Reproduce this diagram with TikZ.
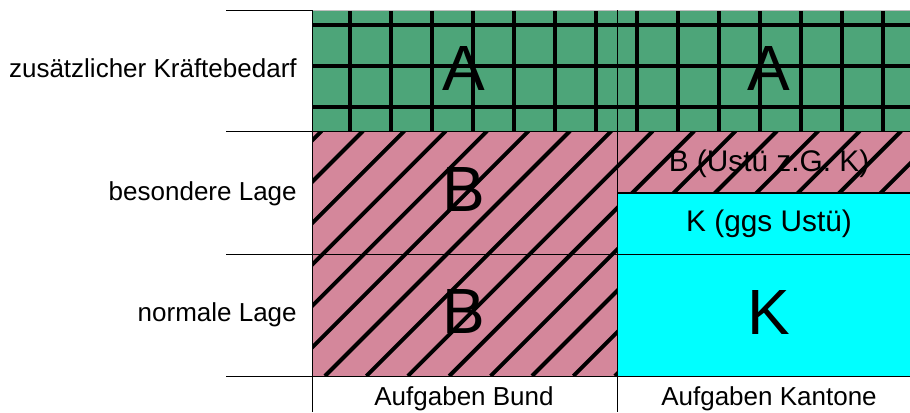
\documentclass[tikz,border=0pt]{standalone}
\usepackage{fontspec}
\setmainfont{Liberation Sans}
\definecolor{gruen}{RGB}{77,165,121}
\definecolor{rosa}{RGB}{212,135,155}
\definecolor{tuerkis}{RGB}{0,255,255}
\begin{document}
\begin{tikzpicture}[
    linie/.style={line width=0.7pt},
    muster/.style={line width=2.8pt},
    zeile/.style={anchor=base east,inner sep=0pt,font=\fontsize{18.5}{22}\selectfont},
    spalte/.style={anchor=base,font=\fontsize{18.5}{22}\selectfont},
    gross/.style={anchor=base,font=\fontsize{45.5}{50}\selectfont},
    mittel/.style={anchor=base,font=\fontsize{21.2}{25}\selectfont}]
    \useasboundingbox (0,0) rectangle (22.75,-10.3);
    % Flaechen
    \fill[gruen] (7.8,-0.25) rectangle (23.025,-3.275);
    \fill[rosa] (7.8,-3.275) rectangle (15.425,-9.4);
    \fill[rosa] (15.425,-3.275) rectangle (23.025,-4.825);
    \fill[tuerkis] (15.425,-4.825) rectangle (23.025,-9.4);
    % Zeilen und Spalten
    \node[zeile] (zusatz) at (7.425,-1.9425) {zusätzlicher Kräftebedarf};
    \node[zeile] (besondere) at (7.425,-5.0) {besondere Lage};
    \node[zeile] (normale) at (7.425,-8.04) {normale Lage};
    \node[spalte] (bund) at (11.6,-10.125) {Aufgaben Bund};
    \node[spalte] (kantone) at (19.225,-10.125) {Aufgaben Kantone};
    % Buchstaben in den Feldern
    \node[gross] (bundA) at (11.6,-2.25) {A};
    \node[gross] (kantonA) at (19.225,-2.25) {A};
    \node[gross] (bundB1) at (11.6,-5.275) {B};
    \node[gross] (bundB2) at (11.6,-8.325) {B};
    \node[mittel] (kantonB) at (19.225,-4.29) {B (Ustü z.G. K)};
    \node[mittel] (kantonK1) at (19.225,-5.79) {K (ggs Ustü)};
    \node[gross] (kantonK2) at (19.225,-8.35) {K};
    % Gitter
    \begin{scope}
        \clip (7.8,-0.25) rectangle (23.025,-3.275);
        \foreach \x in {0,...,15}
        \draw[muster] (7.7175+1.025*\x,-0.25)--++(0,-3.025);
        \foreach \y in {-0.625,-1.65,-2.675}
        \draw[muster] (7.8,\y)--(23.025,\y);
    \end{scope}
    % Schraffur
    \begin{scope}
        \clip (7.8,-3.275) rectangle (15.425,-9.4)
              (15.425,-3.275) rectangle (23.025,-4.825);
        \foreach \k in {-2,...,20}
        \draw[muster] ({12.35+1.035*\k-9.4},-9.4)--++(6.125,6.125);
    \end{scope}
    % Linien
    \draw[linie] (5.65,-0.25)--(7.8,-0.25);
    \draw[linie,gray!50] (7.8,-0.25)--(23.025,-0.25);
    \foreach \y in {-3.275,-6.35,-9.4}
    \draw[linie] (5.65,\y)--(23.025,\y);
    \draw[linie] (7.8,-0.25)--(7.8,-10.3);
    \draw[linie] (15.425,-0.25)--(15.425,-10.3);
    \draw[line width=1pt] (15.425,-4.825)--(23.025,-4.825);
\end{tikzpicture}
\end{document}
